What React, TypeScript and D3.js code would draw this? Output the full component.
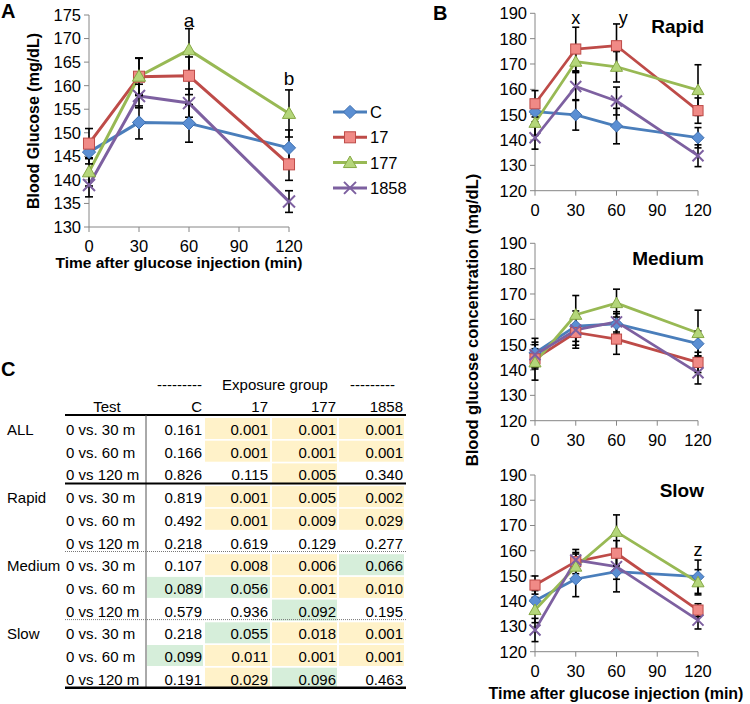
import React from "react";
import * as d3 from "d3";

const FONT = "Liberation Sans, Arial, Helvetica, sans-serif";

// ---------- Data ----------
const times = [0, 30, 60, 120];
const xTicks = [0, 30, 60, 90, 120];
const seriesNames = ["C", "17", "177", "1858"];

// Panel A (all)
const aC = [145.9, 152.2, 152.0, 146.8];
const a17 = [147.7, 161.9, 162.1, 143.3];
const a177 = [141.7, 162.0, 167.6, 154.1];
const a1858 = [138.9, 157.8, 156.3, 135.4];
const aCErr = [2.5, 3.5, 4.0, 3.8];
const a17Err = [3.2, 4.0, 4.0, 3.4];
const a177Err = [3.0, 3.8, 4.5, 5.0];
const a1858Err = [2.5, 2.5, 3.0, 2.3];
const aYTicks = [130, 135, 140, 145, 150, 155, 160, 165, 170, 175];

// Panel B - Rapid
const rC = [151.2, 149.9, 145.5, 140.9];
const r17 = [154.3, 175.9, 177.2, 151.6];
const r177 = [146.8, 170.9, 168.9, 159.7];
const r1858 = [140.9, 161.1, 155.4, 133.8];
const rCErr = [4, 6, 7, 4];
const r17Err = [5.2, 8.6, 8.6, 5];
const r177Err = [5, 4, 6, 10];
const r1858Err = [4.5, 5.5, 5.5, 4.3];

// Panel B - Medium
const mC = [146.8, 157.3, 158.2, 150.4];
const m17 = [144.4, 154.8, 152.2, 143.0];
const m177 = [143.0, 161.8, 166.4, 154.6];
const m1858 = [146.0, 155.8, 159.0, 138.9];
const mCErr = [5.7, 6, 4, 5];
const m17Err = [4, 6.2, 6, 4];
const m177Err = [7, 7.6, 5.5, 9];
const m1858Err = [5, 6, 4, 4.4];

// Panel B - Slow
const sC = [140.2, 148.8, 151.7, 149.7];
const s17 = [146.4, 155.7, 159.0, 136.5];
const s177 = [136.5, 153.7, 167.5, 147.5];
const s1858 = [128.6, 156.3, 153.7, 132.5];
const sCErr = [4, 7, 8, 6.6];
const s17Err = [3.6, 4.8, 5, 2.5];
const s177Err = [5, 5, 6.7, 5];
const s1858Err = [4.6, 3, 5, 3.5];
const bYTicks = [120, 130, 140, 150, 160, 170, 180, 190];

// Panel C table
const tableGroups = ["ALL", "Rapid", "Medium", "Slow"];
const tableTests = ["0 vs. 30 m", "0 vs. 60 m", "0 vs 120 m"];
const pC = [0.161, 0.166, 0.826, 0.819, 0.492, 0.218, 0.107, 0.089, 0.579, 0.218, 0.099, 0.191];
const p17 = [0.001, 0.001, 0.115, 0.001, 0.001, 0.619, 0.008, 0.056, 0.936, 0.055, 0.011, 0.029];
const p177 = [0.001, 0.001, 0.005, 0.005, 0.009, 0.129, 0.006, 0.001, 0.092, 0.018, 0.001, 0.096];
const p1858 = [0.001, 0.001, 0.340, 0.002, 0.029, 0.277, 0.066, 0.010, 0.195, 0.001, 0.001, 0.463];

// ---------- Styles ----------
const STYLES = [
  { line: "#4A7EBB", fill: "#5B8FD3", stroke: "#3C6EB0", marker: "diamond" },
  { line: "#BE4B48", fill: "#F08A86", stroke: "#BE4B48", marker: "square" },
  { line: "#98B954", fill: "#B4D67A", stroke: "#86A845", marker: "triangle" },
  { line: "#7D60A0", fill: "none", stroke: "#7D60A0", marker: "x" },
];
const AXIS = "#868686";
const TICK_FS = 16.5;

function Marker({ kind, x, y, s, st }: any) {
  if (kind === "diamond") {
    const h = s * 0.55;
    return <path d={`M${x},${y - h}L${x + h},${y}L${x},${y + h}L${x - h},${y}Z`} fill={st.fill} stroke={st.stroke} strokeWidth={1} />;
  }
  if (kind === "square") {
    const h = s * 0.46;
    return <rect x={x - h} y={y - h} width={2 * h} height={2 * h} fill={st.fill} stroke={st.stroke} strokeWidth={1} />;
  }
  if (kind === "triangle") {
    const h = s * 0.55;
    return <path d={`M${x},${y - h}L${x + h},${y + h * 0.75}L${x - h},${y + h * 0.75}Z`} fill={st.fill} stroke={st.stroke} strokeWidth={1} />;
  }
  const h = s * 0.5;
  return <path d={`M${x - h},${y - h}L${x + h},${y + h}M${x + h},${y - h}L${x - h},${y + h}`} stroke={st.stroke} strokeWidth={2} fill="none" />;
}

function Panel({ x0, x1, y0, y1, yDomain, yTicks, values, errors, lineW, cap, mSize }: any) {
  const xs = d3.scaleLinear().domain([0, 120]).range([x0, x1]);
  const ys = d3.scaleLinear().domain(yDomain).range([y0, y1]);
  const line = d3.line<number>().x((_, i) => xs(times[i])).y((d) => ys(d));
  return (
    <g>
      <line x1={x0} x2={x0} y1={y1} y2={y0} stroke={AXIS} strokeWidth={1} />
      <line x1={x0} x2={x1} y1={y0} y2={y0} stroke={AXIS} strokeWidth={1} />
      {yTicks.map((t: number) => (
        <g key={"y" + t}>
          <line x1={x0 - 5} x2={x0} y1={ys(t)} y2={ys(t)} stroke={AXIS} />
          <text x={x0 - 8} y={ys(t)} dy="0.36em" textAnchor="end" fontSize={TICK_FS} fontFamily={FONT} fill="#000">{t}</text>
        </g>
      ))}
      {xTicks.map((t) => (
        <g key={"x" + t}>
          <line x1={xs(t)} x2={xs(t)} y1={y0} y2={y0 + 5} stroke={AXIS} />
          <text x={xs(t)} y={y0 + 25} textAnchor="middle" fontSize={TICK_FS} fontFamily={FONT} fill="#000">{t}</text>
        </g>
      ))}
      {values.map((v: number[], si: number) => (
        <path key={"l" + si} d={line(v) || ""} fill="none" stroke={STYLES[si].line} strokeWidth={lineW} strokeLinejoin="round" />
      ))}
      {values.map((v: number[], si: number) =>
        v.map((d, i) => {
          const e = errors[si][i];
          const cx = xs(times[i]);
          return (
            <g key={"e" + si + "-" + i} stroke="#000" strokeWidth={1.6}>
              <line x1={cx} x2={cx} y1={ys(d - e)} y2={ys(d + e)} />
              <line x1={cx - cap} x2={cx + cap} y1={ys(d - e)} y2={ys(d - e)} />
              <line x1={cx - cap} x2={cx + cap} y1={ys(d + e)} y2={ys(d + e)} />
            </g>
          );
        })
      )}
      {values.map((v: number[], si: number) =>
        v.map((d, i) => (
          <Marker key={"m" + si + "-" + i} kind={STYLES[si].marker} x={xs(times[i])} y={ys(d)} s={mSize} st={STYLES[si]} />
        ))
      )}
    </g>
  );
}

function Table() {
  const cols = [pC, p17, p177, p1858];
  const colRight = [202, 268, 336, 403];
  const colBg = [[147, 203], [205, 270], [272, 337], [339, 404]];
  const rowY = (i: number) => 430 + i * 22.7;
  const bg = (p: number) => (p < 0.05 ? "#FFF2C9" : p < 0.1 ? "#D6EEDA" : null);
  const fs = 15;
  return (
    <g fontFamily={FONT} fontSize={fs} fill="#000">
      {cols.map((col, ci) =>
        col.map((p, ri) => {
          const c = bg(p);
          if (!c) return null;
          return <rect key={`b${ci}-${ri}`} x={colBg[ci][0]} y={rowY(ri) - 12} width={colBg[ci][1] - colBg[ci][0]} height={21} fill={c} />;
        })
      )}
      <text x={157} y={390}>---------</text>
      <text x={275} y={390} textAnchor="middle">Exposure group</text>
      <text x={350} y={390}>---------</text>
      <text x={107} y={412} textAnchor="middle">Test</text>
      {seriesNames.map((n, i) => (
        <text key={"h" + n} x={colRight[i]} y={412} textAnchor="end">{n}</text>
      ))}
      <line x1={65} x2={406} y1={415} y2={415} stroke="#000" strokeWidth={2} />
      <line x1={146} x2={146} y1={415} y2={687} stroke="#555" strokeWidth={1} />
      {tableGroups.map((g, gi) => (
        <text key={"g" + g} x={7} y={rowY(gi * 3) + 5}>{g}</text>
      ))}
      {tableGroups.map((g, gi) =>
        tableTests.map((t, ti) => (
          <text key={`t${gi}-${ti}`} x={66} y={rowY(gi * 3 + ti) + 5}>{t}</text>
        ))
      )}
      {cols.map((col, ci) =>
        col.map((p, ri) => (
          <text key={`v${ci}-${ri}`} x={colRight[ci]} y={rowY(ri) + 5} textAnchor="end">{p.toFixed(3)}</text>
        ))
      )}
      <line x1={65} x2={406} y1={rowY(2) + 8} y2={rowY(2) + 8} stroke="#000" strokeWidth={2} />
      <line x1={65} x2={406} y1={rowY(5) + 8} y2={rowY(5) + 8} stroke="#777" strokeWidth={1} strokeDasharray="1,1" />
      <line x1={65} x2={406} y1={rowY(8) + 8} y2={rowY(8) + 8} stroke="#777" strokeWidth={1} strokeDasharray="1,1" />
      <line x1={65} x2={406} y1={rowY(11) + 8} y2={rowY(11) + 8} stroke="#000" strokeWidth={2.5} />
    </g>
  );
}

export default function App() {
  const aValues = [aC, a17, a177, a1858];
  const aErrors = [aCErr, a17Err, a177Err, a1858Err];
  const bPanels = [
    { title: "Rapid", y0: 190.7, y1: 13.3, values: [rC, r17, r177, r1858], errors: [rCErr, r17Err, r177Err, r1858Err] },
    { title: "Medium", y0: 420.7, y1: 243.3, values: [mC, m17, m177, m1858], errors: [mCErr, m17Err, m177Err, m1858Err] },
    { title: "Slow", y0: 651.7, y1: 475, values: [sC, s17, s177, s1858], errors: [sCErr, s17Err, s177Err, s1858Err] },
  ];
  const titleY = [33, 265, 497];
  const xA = d3.scaleLinear().domain([0, 120]).range([89, 289]);
  const yA = d3.scaleLinear().domain([130, 175]).range([227, 15]);
  const xB = d3.scaleLinear().domain([0, 120]).range([535, 698]);
  const yRapid = d3.scaleLinear().domain([120, 190]).range([190.7, 13.3]);
  const ySlow = d3.scaleLinear().domain([120, 190]).range([651.7, 475]);
  return (
    <svg width={750} height={704} style={{ position: "absolute", left: 0, top: 0, background: "#fff" }} fontFamily={FONT}>
      <rect width={750} height={704} fill="#fff" />
      {/* Panel A */}
      <text x={1} y={18} fontSize={20} fontWeight="bold">A</text>
      <Panel x0={89} x1={289} y0={227} y1={15} yDomain={[130, 175]} yTicks={aYTicks} values={aValues} errors={aErrors} lineW={3} cap={4} mSize={12} />
      <text transform="translate(39,121) rotate(-90)" textAnchor="middle" fontSize={16} fontWeight="bold">Blood Glucose (mg/dL)</text>
      <text x={179} y={268} textAnchor="middle" fontSize={15.5} fontWeight="bold">Time after glucose injection (min)</text>
      <text x={xA(60)} y={yA(172.5)} textAnchor="middle" fontSize={19}>a</text>
      <text x={xA(120)} y={yA(160.2)} textAnchor="middle" fontSize={19}>b</text>
      {/* Legend */}
      {seriesNames.map((n, i) => {
        const ly = 112 + i * 25.3;
        return (
          <g key={"lg" + n}>
            <line x1={333} x2={367} y1={ly} y2={ly} stroke={STYLES[i].line} strokeWidth={3} />
            <Marker kind={STYLES[i].marker} x={350} y={ly} s={12} st={STYLES[i]} />
            <text x={370} y={ly} dy="0.36em" fontSize={16.5}>{n}</text>
          </g>
        );
      })}

      {/* Panel B */}
      <text x={433} y={20} fontSize={20} fontWeight="bold">B</text>
      {bPanels.map((p, i) => (
        <g key={p.title}>
          <Panel x0={535} x1={698} y0={p.y0} y1={p.y1} yDomain={[120, 190]} yTicks={bYTicks} values={p.values} errors={p.errors} lineW={2.75} cap={3.5} mSize={11} />
          <text x={704} y={titleY[i]} textAnchor="end" fontSize={19} fontWeight="bold">{p.title}</text>
        </g>
      ))}
      <text x={xB(30)} y={yRapid(188.5)} dy="0.36em" textAnchor="middle" fontSize={18}>x</text>
      <text x={xB(65)} y={yRapid(188.5)} dy="0.36em" textAnchor="middle" fontSize={18}>y</text>
      <text x={xB(120)} y={ySlow(160.5)} dy="0.36em" textAnchor="middle" fontSize={18}>z</text>
      <text transform="translate(478,320) rotate(-90)" textAnchor="middle" fontSize={16.5} fontWeight="bold">Blood glucose concentration (mg/dL)</text>
      <text x={616} y={699} textAnchor="middle" fontSize={16} fontWeight="bold">Time after glucose injection (min)</text>

      {/* Panel C */}
      <text x={1} y={376} fontSize={20} fontWeight="bold">C</text>
      <Table />
    </svg>
  );
}
